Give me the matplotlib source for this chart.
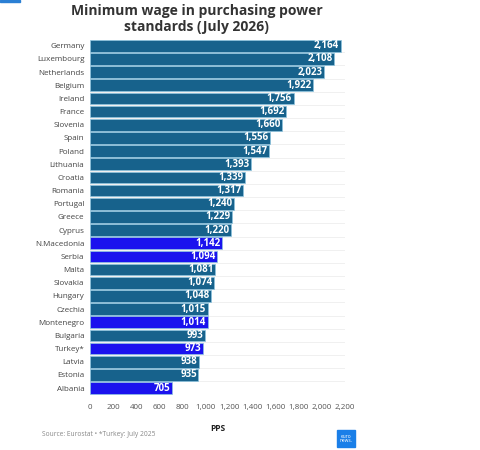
import matplotlib.pyplot as plt
import matplotlib.patches as mpatches

countries = ['Germany', 'Luxembourg', 'Netherlands', 'Belgium', 'Ireland', 'France',
             'Slovenia', 'Spain', 'Poland', 'Lithuania', 'Croatia', 'Romania',
             'Portugal', 'Greece', 'Cyprus', 'N.Macedonia', 'Serbia', 'Malta',
             'Slovakia', 'Hungary', 'Czechia', 'Montenegro', 'Bulgaria', 'Turkey*',
             'Latvia', 'Estonia', 'Albania']
pps = [2164, 2108, 2023, 1922, 1756, 1692, 1660, 1556, 1547, 1393, 1339, 1317,
       1240, 1229, 1220, 1142, 1094, 1081, 1074, 1048, 1015, 1014, 993, 973,
       938, 935, 705]
non_eu = ['N.Macedonia', 'Serbia', 'Montenegro', 'Turkey*', 'Albania']
xticks = [0, 200, 400, 600, 800, 1000, 1200, 1400, 1600, 1800, 2000, 2200]

plt.rcParams['font.family'] = ['Open Sans', 'DejaVu Sans']

eu_color = '#17628c'
other_color = '#1a12ee'
colors = [other_color if c in non_eu else eu_color for c in countries]

fig = plt.figure(figsize=(4.8, 4.5), dpi=100)
ax = fig.add_axes([0.1875, 0.123, 0.53125, 0.790])

ypos = list(range(len(countries)))
for y in ypos:
    ax.axhline(y + 0.5, color='#eeeeee', lw=0.6, zorder=0)
ax.barh(ypos, pps, height=0.88, color=colors, edgecolor='#8cc3de', linewidth=0.5, zorder=2)
for y, v in zip(ypos, pps):
    ax.text(v - 14, y, f'{v:,}', ha='right', va='center', color='white',
            fontsize=7, fontweight='bold', zorder=3)

ax.set_ylim(len(countries) - 0.5, -0.5)
ax.set_xlim(0, 2200)
ax.set_yticks(ypos)
ax.set_yticklabels(countries, fontsize=5.8, color='#444444')
ax.set_xticks(xticks)
ax.set_xticklabels([f'{t:,}' for t in xticks], fontsize=5.8, color='#555555')
ax.tick_params(length=0, pad=4)
ax.tick_params(axis='x', pad=7)
for s in ax.spines.values():
    s.set_visible(False)
ax.set_xlabel('PPS', fontsize=6, fontweight='bold', color='#222222', labelpad=9)

fig.text(0.41, 0.99, 'Minimum wage in purchasing power\nstandards (July 2026)',
         ha='center', va='top', fontsize=10, fontweight='bold', color='#333333',
         linespacing=1.1)
fig.text(0.087, 0.035, 'Source: Eurostat \u2022 *Turkey: July 2025', fontsize=4.8,
         color='#888888', va='center')

fig.patches.append(mpatches.Rectangle((0, 0.995), 0.042, 0.005, transform=fig.transFigure,
                                      color='#2a7fd4', figure=fig))
fig.patches.append(mpatches.Rectangle((0.702, 0.007), 0.037, 0.038, transform=fig.transFigure,
                                      color='#1a7fe8', figure=fig))
fig.text(0.7205, 0.026, 'euro\nnews.', fontsize=3.5, color='white', ha='center',
         va='center', linespacing=0.8)

fig.savefig('out.png', dpi=100)
